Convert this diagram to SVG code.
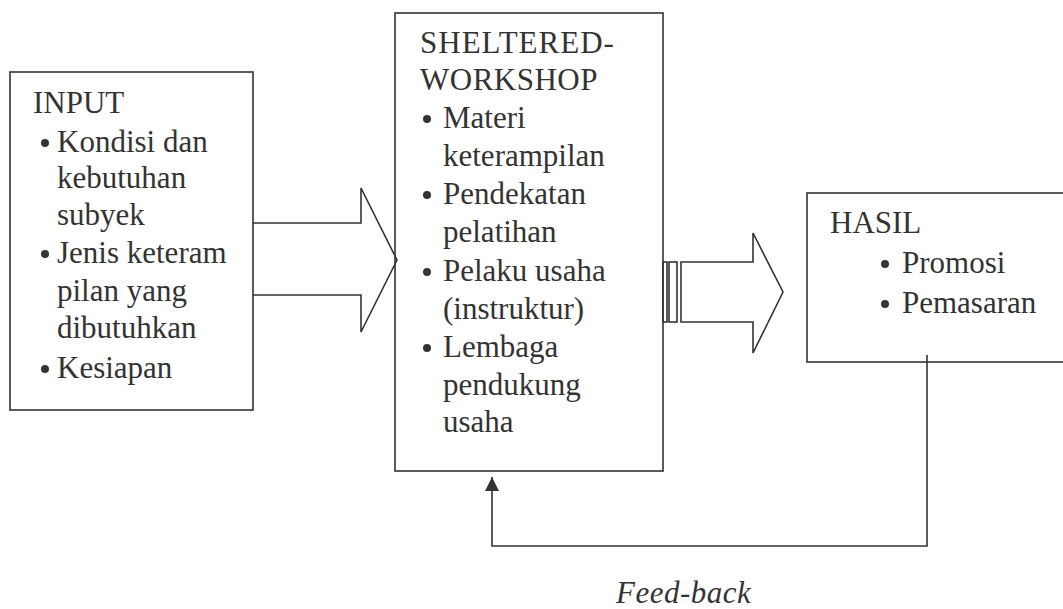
<svg xmlns="http://www.w3.org/2000/svg" width="1063" height="609" viewBox="0 0 1063 609">
<style>
.box{fill:#fff;stroke:#333;stroke-width:1.6}
.ln{fill:none;stroke:#333;stroke-width:1.6}
.t{font-family:"Liberation Serif","Times New Roman",serif;font-size:31px;fill:#333}
.it{font-style:italic}
.b{fill:#333}
</style>
<defs>
<marker id="ah" markerWidth="14" markerHeight="14" refX="14" refY="7" orient="auto" markerUnits="userSpaceOnUse" viewBox="0 0 14 14">
<path d="M0,0 L14,7 L0,14 Z" fill="#333"/>
</marker>
</defs>
<rect width="1063" height="609" fill="#fff"/>

<g id="input">
<rect class="box" x="10" y="72" width="243" height="338"/>
<text class="t" x="33" y="113">INPUT</text>
<circle class="b" cx="45" cy="143" r="4"/>
<text class="t" x="57" y="152">Kondisi dan</text>
<text class="t" x="57" y="188">kebutuhan</text>
<text class="t" x="57" y="225">subyek</text>
<circle class="b" cx="45" cy="254" r="4"/>
<text class="t" x="57" y="263">Jenis keteram</text>
<text class="t" x="57" y="301">pilan yang</text>
<text class="t" x="57" y="338">dibutuhkan</text>
<circle class="b" cx="45" cy="369" r="4"/>
<text class="t" x="57" y="378">Kesiapan</text>
</g>

<g id="workshop">
<rect class="box" x="395" y="13" width="268" height="458"/>
<text class="t" x="420" y="53" letter-spacing="1">SHELTERED-</text>
<text class="t" x="420" y="90" letter-spacing="0.5">WORKSHOP</text>
<circle class="b" cx="427" cy="119" r="4"/>
<text class="t" x="443" y="128">Materi</text>
<text class="t" x="443" y="166">keterampilan</text>
<circle class="b" cx="427" cy="195" r="4"/>
<text class="t" x="443" y="204">Pendekatan</text>
<text class="t" x="443" y="242">pelatihan</text>
<circle class="b" cx="427" cy="272" r="4"/>
<text class="t" x="443" y="281">Pelaku usaha</text>
<text class="t" x="443" y="319">(instruktur)</text>
<circle class="b" cx="427" cy="348" r="4"/>
<text class="t" x="443" y="357">Lembaga</text>
<text class="t" x="443" y="395">pendukung</text>
<text class="t" x="443" y="432">usaha</text>
</g>

<g id="hasil">
<rect class="box" x="807" y="193" width="270" height="169"/>
<text class="t" x="830" y="233">HASIL</text>
<circle class="b" cx="885" cy="264" r="4"/>
<text class="t" x="902" y="273">Promosi</text>
<circle class="b" cx="885" cy="304" r="4"/>
<text class="t" x="902" y="313">Pemasaran</text>
</g>

<g id="connectors">
<path class="ln" d="M253,223 H361 V188 L397,260 L361,332 V295 H253"/>
<rect class="ln" x="663" y="262" width="4" height="60"/>
<rect class="ln" x="669" y="262" width="8" height="60"/>
<path class="ln" d="M681,262 H753 V233 L783,292 L753,353 V322 H681 Z"/>
<path class="ln" d="M927,355 V546 H492 V477" marker-end="url(#ah)"/>
</g>

<text class="t it" x="616" y="603" letter-spacing="0.5">Feed-back</text>
</svg>
